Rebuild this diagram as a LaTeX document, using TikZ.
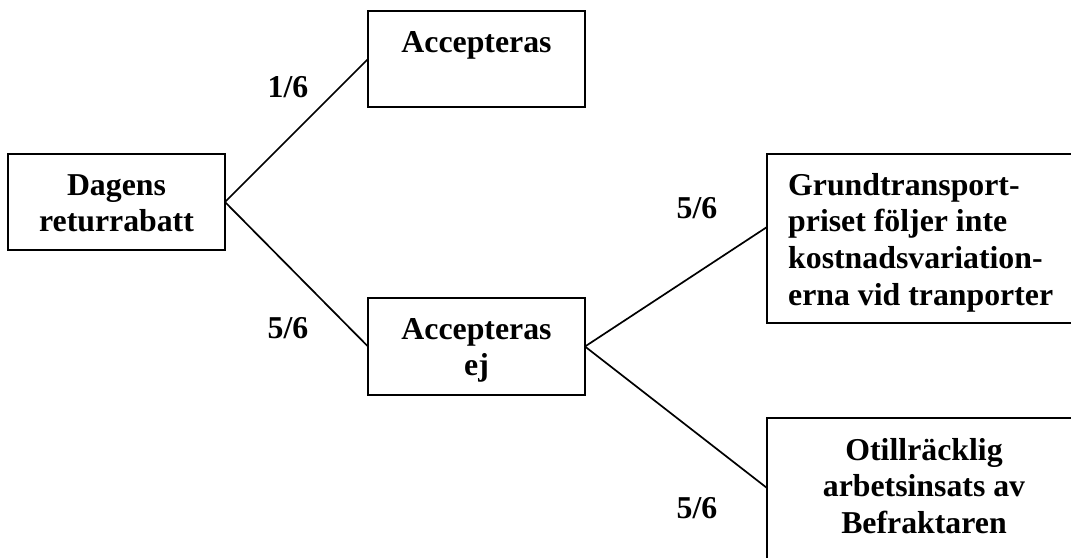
\documentclass[tikz,border=0pt]{standalone}
\usepackage{fontspec}
\setmainfont{Liberation Serif}
\usetikzlibrary{calc}
\begin{document}
\begin{tikzpicture}[x=1pt,y=-1pt,
  box/.style={draw, line width=2.2pt, inner sep=0pt, outer sep=0pt, anchor=north west},
  txt/.style={inner sep=0pt, font=\bfseries\fontsize{31.8}{36.8}\selectfont},
  conn/.style={line width=1.7pt},
  prob/.style={inner sep=0pt, anchor=base, font=\bfseries\fontsize{31.8}{36.8}\selectfont}]
\clip (0,0) rectangle (1071,557);
\fill[white] (0,0) rectangle (1071,557);
% boxes
\node[box, minimum width=217pt, minimum height=96pt] (dag) at (8,154) {};
\node[box, minimum width=217pt, minimum height=96pt] (acc) at (368,11) {};
\node[box, minimum width=217pt, minimum height=97pt] (acej) at (368,298) {};
\node[box, minimum width=314pt, minimum height=169pt] (grund) at (767,154) {};
\node[box, minimum width=314pt, minimum height=169pt] (otill) at (767,418) {};
% texts
\node[txt, anchor=base] (tdag) at ($(dag.north)+(0,41)$) {\parbox[t]{217pt}{\centering Dagens\\returrabatt}};
\node[txt, anchor=base] (tacc) at ($(acc.north)+(0,41)$) {\parbox[t]{217pt}{\centering Accepteras}};
\node[txt, anchor=base] (tacej) at ($(acej.north)+(0,41)$) {\parbox[t]{217pt}{\centering Accepteras\\ej}};
\node[txt, anchor=base west] (tgrund) at ($(grund.north west)+(21,41)$) {\parbox[t]{300pt}{\raggedright Grundtransport-\\priset följer inte\\kostnadsvariation-\\erna vid tranporter}};
\node[txt, anchor=base] (totill) at ($(otill.north)+(0,42)$) {\parbox[t]{314pt}{\centering Otillräcklig\\arbetsinsats av\\Befraktaren}};
% connectors
\draw[conn] (dag.east) -- (acc.west);
\draw[conn] (dag.east) -- (acej.west);
\draw[conn] (acej.east) -- ([yshift=11.5pt]grund.west);
\draw[conn] (acej.east) -- ([yshift=-70pt]otill.north west);
% probabilities
\node[prob] (p1) at (288,97) {1/6};
\node[prob] (p2) at (288,338) {5/6};
\node[prob] (p3) at (697,218) {5/6};
\node[prob] (p4) at (697,518) {5/6};
\end{tikzpicture}
\end{document}
